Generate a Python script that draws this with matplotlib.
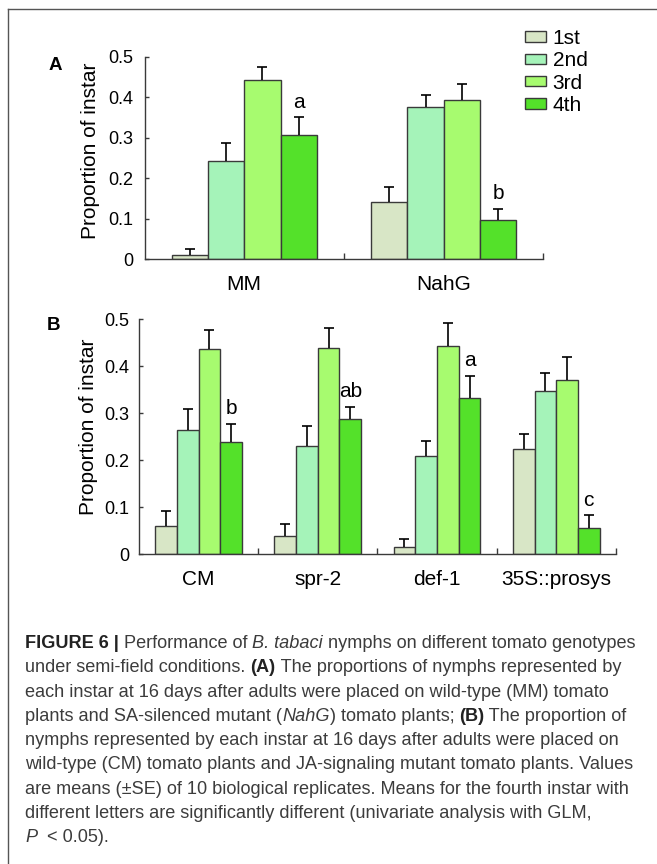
import numpy as np
import matplotlib
matplotlib.use('Agg')
import matplotlib.pyplot as plt
from matplotlib.lines import Line2D

# ---- data ----
instars = ['1st', '2nd', '3rd', '4th']
colors = ['#d8e6c6', '#a5f3b9', '#a7fb6f', '#54e12a']

genotypes_a = ['MM', 'NahG']
means_a = np.array([[0.010, 0.243, 0.442, 0.307],
                    [0.141, 0.377, 0.394, 0.096]])
se_a = np.array([[0.016, 0.045, 0.032, 0.043],
                 [0.037, 0.029, 0.039, 0.028]])
letters_a = ['a', 'b']

genotypes_b = ['CM', 'spr-2', 'def-1', '35S::prosys']
means_b = np.array([[0.060, 0.264, 0.436, 0.238],
                    [0.040, 0.230, 0.438, 0.287],
                    [0.016, 0.209, 0.443, 0.332],
                    [0.224, 0.348, 0.371, 0.055]])
se_b = np.array([[0.032, 0.046, 0.041, 0.040],
                 [0.025, 0.044, 0.044, 0.027],
                 [0.016, 0.031, 0.050, 0.047],
                 [0.032, 0.037, 0.048, 0.028]])
letters_b = ['b', 'ab', 'a', 'c']

yticks = [0, 0.1, 0.2, 0.3, 0.4, 0.5]
ytick_labels = ['0', '0.1', '0.2', '0.3', '0.4', '0.5']

plt.rcParams['font.family'] = ['Liberation Sans', 'DejaVu Sans']

W, H = 657, 864
fig = plt.figure(figsize=(W / 100, H / 100), dpi=100)

BW = 0.182
EDGE = '#3a3a3a'


def draw_panel(ax, genotypes, means, se, letters):
    n = len(genotypes)
    centers = np.arange(n) + 0.5
    for j, inst in enumerate(instars):
        xs = centers + (j - 1.5) * BW
        ax.bar(xs, means[:, j], width=BW, color=colors[j], edgecolor=EDGE,
               linewidth=1.0, label=inst, zorder=2)
        eb = ax.errorbar(xs, means[:, j], yerr=[np.zeros(n), se[:, j]],
                         fmt='none', ecolor='black', elinewidth=1.2,
                         capsize=3.6, capthick=1.2, zorder=3)
        # only the upper cap is drawn in the original
        eb[1][0].set_visible(False)
    for i, let in enumerate(letters):
        x4 = centers[i] + 1.5 * BW
        top = means[i, 3] + se[i, 3]
        ax.annotate(let, (x4, top), xytext=(0, 11), textcoords='offset points',
                    ha='center', va='center', fontsize=15)
    ax.set_xlim(0, n)
    ax.set_ylim(0, 0.5)
    ax.set_yticks(yticks)
    ax.set_yticklabels(ytick_labels)
    ax.set_xticks(np.arange(1, n + 1))
    ax.set_xticklabels([])
    ax.set_xticks(centers, minor=True)
    ax.set_xticklabels(genotypes, minor=True, fontsize=15)
    ax.tick_params(axis='x', which='major', direction='in', length=4,
                   width=1.0, color=EDGE)
    ax.tick_params(axis='x', which='minor', length=0, pad=11)
    ax.tick_params(axis='y', direction='in', length=3, width=1.0,
                   color=EDGE, labelsize=13)
    for s in ['top', 'right']:
        ax.spines[s].set_visible(False)
    for s in ['left', 'bottom']:
        ax.spines[s].set_color(EDGE)
        ax.spines[s].set_linewidth(1.0)


# panel A
ax_a = fig.add_axes([144.5 / W, 1 - 259.3 / H, 398.9 / W, 202.6 / H])
draw_panel(ax_a, genotypes_a, means_a, se_a, letters_a)
ax_a.tick_params(axis='y', pad=8)

# panel B
ax_b = fig.add_axes([139 / W, 1 - 554.3 / H, 476.8 / W, 235 / H])
draw_panel(ax_b, genotypes_b, means_b, se_b, letters_b)
ax_b.tick_params(axis='y', pad=7)

fig.text(55 / W, 1 - 65 / H, 'A', fontsize=13.5, fontweight='bold',
         ha='center', va='center')
fig.text(54 / W, 1 - 325 / H, 'B', fontsize=13.5, fontweight='bold',
         ha='center', va='center')
fig.text(90 / W, 1 - 150.5 / H, 'Proportion of instar', fontsize=15,
         rotation=90, ha='center', va='center')
fig.text(88 / W, 1 - 426.7 / H, 'Proportion of instar', fontsize=15,
         rotation=90, ha='center', va='center')

handles, labels = ax_a.get_legend_handles_labels()
handles = [h.patches[0] if hasattr(h, 'patches') else h for h in handles]
fig.legend(handles, labels, loc='upper left',
           bbox_to_anchor=(525 / W, 1 - 29 / H), frameon=False, fontsize=15,
           handlelength=1.0, handleheight=0.4, handletextpad=0.32,
           labelspacing=0.16, borderpad=0, borderaxespad=0)

# border (top and left edge)
fig.add_artist(Line2D([8 / W, 8 / W], [0, 1 - 9 / H], color='#555555',
                      linewidth=1.0, transform=fig.transFigure))
fig.add_artist(Line2D([8 / W, 1], [1 - 9 / H, 1 - 9 / H], color='#555555',
                      linewidth=1.0, transform=fig.transFigure))

# caption
caption = [
    [('FIGURE 6 | ', 'b'), ('Performance of ', 'n'), ('B. tabaci', 'i'),
     (' nymphs on different tomato genotypes', 'n')],
    [('under semi-field conditions. ', 'n'), ('(A)', 'b'),
     (' The proportions of nymphs represented by', 'n')],
    [('each instar at 16 days after adults were placed on wild-type (MM) tomato', 'n')],
    [('plants and SA-silenced mutant (', 'n'), ('NahG', 'i'),
     (') tomato plants; ', 'n'), ('(B)', 'b'), (' The proportion of', 'n')],
    [('nymphs represented by each instar at 16 days after adults were placed on', 'n')],
    [('wild-type (CM) tomato plants and JA-signaling mutant tomato plants. Values', 'n')],
    [('are means (\u00b1SE) of 10 biological replicates. Means for the fourth instar with', 'n')],
    [('different letters are significantly different (univariate analysis with GLM,', 'n')],
    [('P', 'i'), ('  < 0.05).', 'n')],
]

renderer = fig.canvas.get_renderer()
cap_size = 13.1
for k, runs in enumerate(caption):
    x = 25.0
    y = 648.2 + 24.25 * k
    for txt, st in runs:
        kw = dict(fontsize=cap_size, color='#3c3c3c', ha='left', va='baseline')
        if st == 'b':
            kw['fontweight'] = 'bold'
            kw['color'] = '#222222'
        elif st == 'i':
            kw['fontstyle'] = 'italic'
        t = fig.text(x / W, 1 - y / H, txt, **kw)
        bb = t.get_window_extent(renderer)
        x += bb.width

fig.savefig('out.png', dpi=100)
